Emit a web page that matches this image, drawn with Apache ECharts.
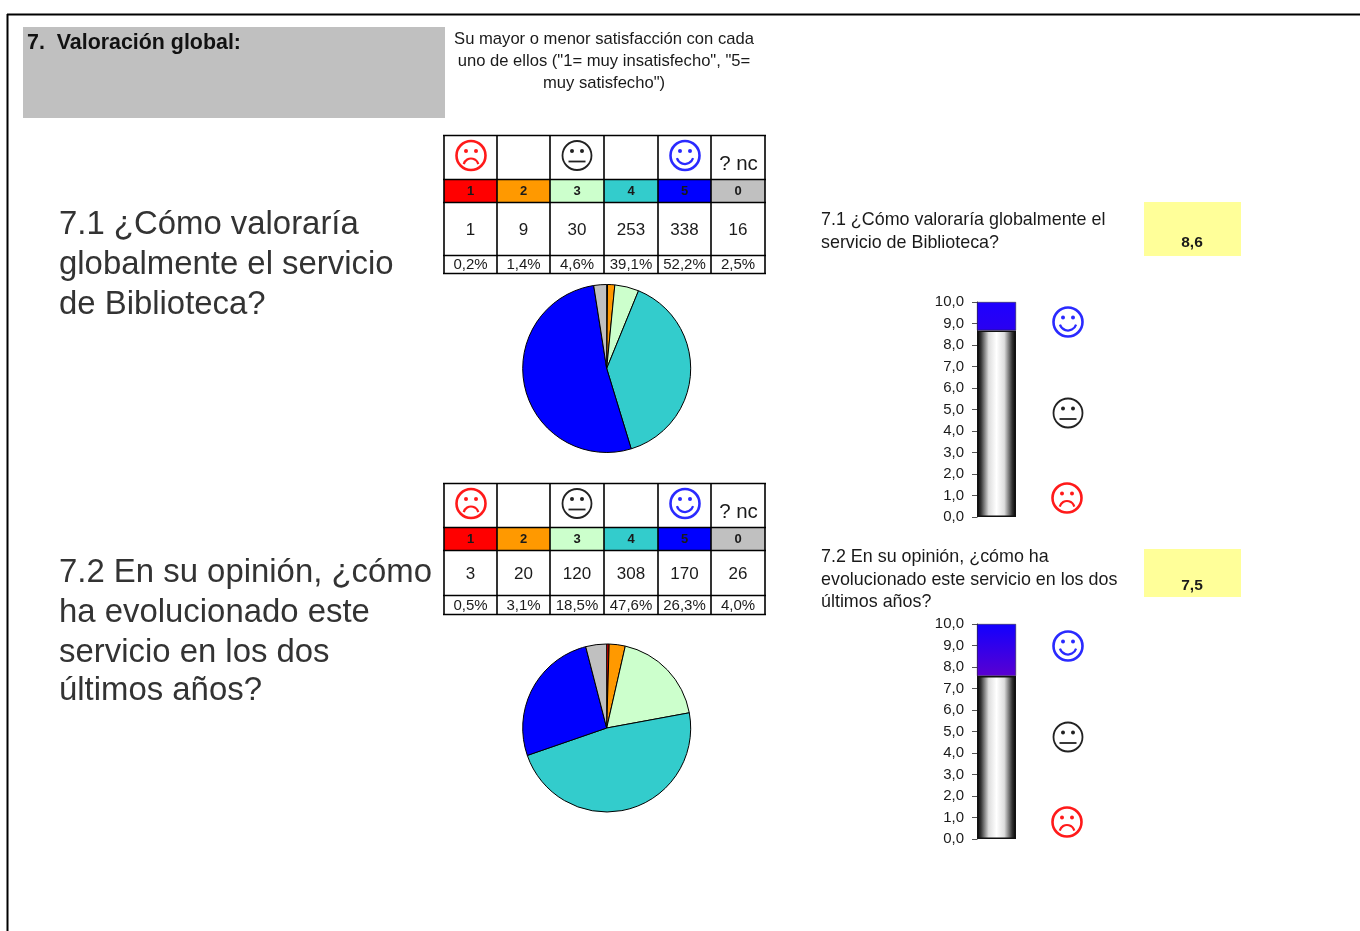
<!DOCTYPE html>
<html><head><meta charset="utf-8">
<style>html,body{margin:0;padding:0;background:#fff}#c{width:1360px;height:931px;filter:blur(0.5px)}</style>
<script src="https://cdn.jsdelivr.net/npm/echarts@6/dist/echarts.min.js"></script>
</head><body><div id="c"></div>
<script>
var categories = ['1','2','3','4','5','0'];
var sliceColors = ['#ff0000','#ff9900','#ccffcc','#33cccc','#0000ff','#c0c0c0'];
var counts71 = [1,9,30,253,338,16];
var percents71 = ['0,2%','1,4%','4,6%','39,1%','52,2%','2,5%'];
var counts72 = [3,20,120,308,170,26];
var percents72 = ['0,5%','3,1%','18,5%','47,6%','26,3%','4,0%'];
var score71 = 8.68;
var score72 = 7.58;
var scoreLabel71 = '8,6';
var scoreLabel72 = '7,5';
var axisMax = 10;
var sectionTitle = '7.  Valoración global:';
var headerLines = ['Su mayor o menor satisfacción con cada','uno de ellos ("1= muy insatisfecho", "5=','muy satisfecho")'];
var bigLines71 = ['7.1 ¿Cómo valoraría','globalmente el servicio','de Biblioteca?'];
var bigLines72 = ['7.2 En su opinión, ¿cómo','ha evolucionado este','servicio en los dos','últimos años?'];
var smallLines71 = ['7.1 ¿Cómo valoraría globalmente el','servicio de Biblioteca?'];
var smallLines72 = ['7.2 En su opinión, ¿cómo ha','evolucionado este servicio en los dos','últimos años?'];

var FONT = '"Liberation Sans", Arial, sans-serif';
var g = [];
function rect(x,y,w,h,fill,z){g.push({type:'rect',z:z||1,silent:true,shape:{x:x,y:y,width:w,height:h},style:{fill:fill}});}
function line(x1,y1,x2,y2,w,c){g.push({type:'line',z:5,silent:true,shape:{x1:x1,y1:y1,x2:x2,y2:y2},style:{stroke:c||'#000',lineWidth:w||1}});}
function text(t,x,y,size,opt){opt=opt||{};g.push({type:'text',z:6,silent:true,x:x,y:y,style:{text:t,font:(opt.weight||'normal')+' '+size+'px '+FONT,fill:opt.color||'#1a1a1a',textAlign:opt.align||'left',textVerticalAlign:'middle'}});}
function smiley(kind,cx,cy){
  var c = kind==='sad'?'#ff1a1a':kind==='happy'?'#2a2aff':'#222';
  var lw = kind==='neutral'?1.8:2.6;
  var r = 14.5;
  g.push({type:'circle',z:6,silent:true,shape:{cx:cx,cy:cy,r:r},style:{fill:'#fff',stroke:c,lineWidth:lw}});
  g.push({type:'circle',z:6,silent:true,shape:{cx:cx-5,cy:cy-4.5,r:2},style:{fill:c}});
  g.push({type:'circle',z:6,silent:true,shape:{cx:cx+5,cy:cy-4.5,r:2},style:{fill:c}});
  if(kind==='neutral'){g.push({type:'line',z:6,silent:true,shape:{x1:cx-8.5,y1:cy+6,x2:cx+8.5,y2:cy+6},style:{stroke:c,lineWidth:1.8}});}
  else if(kind==='happy'){g.push({type:'arc',z:6,silent:true,shape:{cx:cx,cy:cy,r:8.5,startAngle:0.1*Math.PI,endAngle:0.9*Math.PI},style:{stroke:c,fill:'none',lineWidth:2.2}});}
  else{g.push({type:'arc',z:6,silent:true,shape:{cx:cx,cy:cy+10.5,r:7.5,startAngle:1.08*Math.PI,endAngle:1.92*Math.PI},style:{stroke:c,fill:'none',lineWidth:2.2}});}
}
var colX = [444,497,550,604,658,711,765];
function table(rows,counts,percents){
  var i;
  for(i=0;i<6;i++){
    rect(colX[i],rows[1],colX[i+1]-colX[i],rows[2]-rows[1],sliceColors[i]);
    var mid=(colX[i]+colX[i+1])/2;
    text(categories[i],mid,(rows[1]+rows[2])/2+0.5,13,{align:'center',weight:'bold'});
    text(String(counts[i]),mid,(rows[2]+rows[3])/2+1,17,{align:'center'});
    text(percents[i],mid,(rows[3]+rows[4])/2+0.5,15,{align:'center'});
  }
  rows.forEach(function(y){line(colX[0]-1,y,colX[6]+1,y,1.6);});
  colX.forEach(function(x){line(x,rows[0],x,rows[4],1.6);});
  var y=rows[0]+20;
  smiley('sad',471,y); smiley('neutral',577,y); smiley('happy',685,y);
  text('? nc',738.5,rows[0]+29,20.5,{align:'center'});
}
// frame
line(7,14.5,1360,14.5,2,'#000');
line(7.5,14,7.5,931,2,'#000');
rect(23,27,422,91,'#c0c0c0');
text(sectionTitle,27,43,21.4,{weight:'bold',color:'#111'});
headerLines.forEach(function(t,i){text(t,604,39+i*22,16.6,{align:'center'});});
bigLines71.forEach(function(t,i){text(t,59,224.5+i*40,32.9,{color:'#333'});});
[573,613,653,691].forEach(function(y,i){text(bigLines72[i],59,y,32.9,{color:'#333'});});
[220,243].forEach(function(y,i){text(smallLines71[i],821,y,17.9);});
[557,580,602].forEach(function(y,i){text(smallLines72[i],821,y,17.9);});
rect(1144,202,97,54,'#ffff99');
rect(1144,549,97,48,'#ffff99');
text(scoreLabel71,1192,243,15.5,{align:'center',weight:'bold'});
text(scoreLabel72,1192,586,15.5,{align:'center',weight:'bold'});
table([135.5,179.5,202.5,255.5,273.5],counts71,percents71);
table([483.5,527.5,550.5,595.5,614.5],counts72,percents72);
smiley('happy',1068,322); smiley('neutral',1068,413); smiley('sad',1067,498);
smiley('happy',1068,646); smiley('neutral',1068,737); smiley('sad',1067,822);

function pie(counts,cy){
  return {type:'pie',animation:false,silent:true,center:[606.7,cy],radius:[0,84],startAngle:90,clockwise:true,
    label:{show:false},labelLine:{show:false},
    itemStyle:{borderColor:'#000',borderWidth:1},
    emphasis:{disabled:true},
    data:counts.map(function(v,i){return {name:categories[i],value:v,itemStyle:{color:sliceColors[i]}};})};
}
var steel={type:'linear',x:0,y:0,x2:1,y2:0,colorStops:[{offset:0,color:'#000'},{offset:0.1,color:'#333'},{offset:0.3,color:'#ddd'},{offset:0.5,color:'#fff'},{offset:0.7,color:'#ddd'},{offset:0.9,color:'#333'},{offset:1,color:'#000'}]};
function tall(top,bottom){return {type:'linear',x:0,y:0,x2:0,y2:1,colorStops:[{offset:0,color:top},{offset:1,color:bottom}]};}
function bars(idx,score,fill){
  var base={type:'bar',animation:false,silent:true,stack:'s'+idx,xAxisIndex:idx,yAxisIndex:idx,barWidth:'100%'};
  return [
    Object.assign({},base,{data:[score],itemStyle:{color:steel,borderColor:'#111',borderWidth:1.5}}),
    Object.assign({},base,{data:[+(axisMax-score).toFixed(2)],itemStyle:{color:fill,borderColor:'#222',borderWidth:0.5}})
  ];
}
function yAxis(idx){return {type:'value',gridIndex:idx,min:0,max:axisMax,interval:1,
  axisLine:{show:true,lineStyle:{color:'#444'}},axisTick:{show:true,length:5,lineStyle:{color:'#555'}},splitLine:{show:false},
  axisLabel:{margin:13,padding:[2,0,0,0],color:'#1a1a1a',fontFamily:FONT,fontSize:15,formatter:function(v){return v.toFixed(1).replace('.',',');}}};}
function xAxis(idx){return {type:'category',gridIndex:idx,data:[''],show:false};}
var chart=echarts.init(document.getElementById('c'));
chart.setOption({
  backgroundColor:'#fff',animation:false,tooltip:{show:false},
  grid:[{left:977,width:39,top:302,height:215},{left:977,width:39,top:624,height:215}],
  xAxis:[xAxis(0),xAxis(1)],yAxis:[yAxis(0),yAxis(1)],
  series:[pie(counts71,368.5),pie(counts72,728)]
    .concat(bars(0,score71,tall('#1e00ff','#2a00f0')))
    .concat(bars(1,score72,tall('#1200ff','#5a00d0'))),
  graphic:{elements:g}
});
</script></body></html>
